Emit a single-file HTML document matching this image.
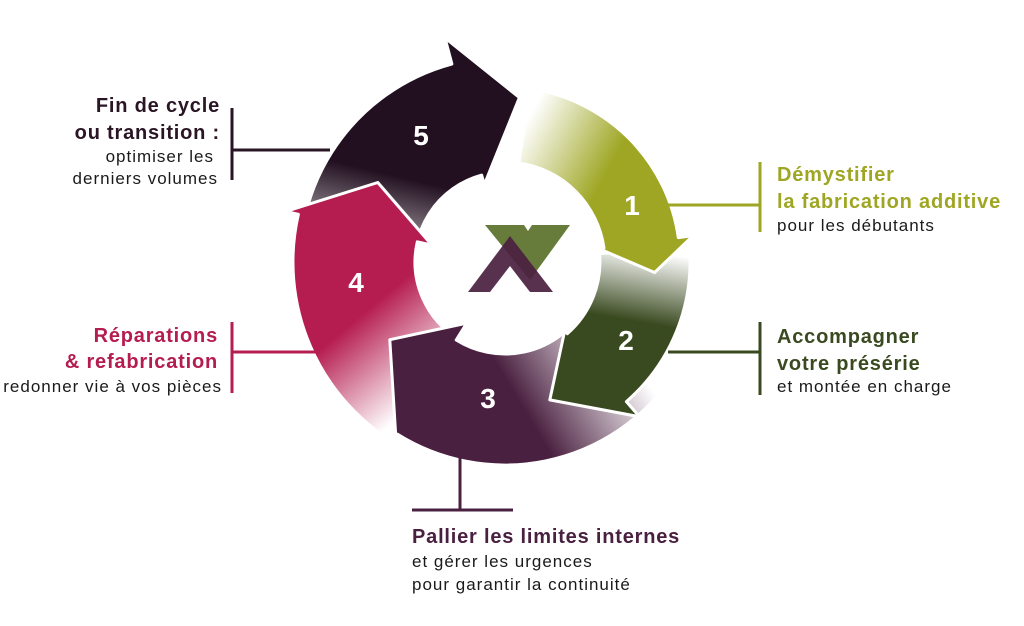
<!DOCTYPE html>
<html><head><meta charset="utf-8"><style>
html,body{margin:0;padding:0;background:#fff;}
svg{display:block;font-family:"Liberation Sans",sans-serif;}
.b{font-weight:bold;font-size:20px;letter-spacing:0.8px;}
.r{font-size:17px;letter-spacing:1px;fill:#1a1a1a;}
</style></head><body>
<svg id="s" width="1024" height="626" viewBox="0 0 1024 626" xmlns="http://www.w3.org/2000/svg">
<defs id="d"></defs>
<g id="arrows"></g>
<polygon points="485,225 524,225 528,231 532,225 570,225 530,280" fill="#5f7530" opacity="0.95"/>
<polygon points="468,292 510,236 553,292 530,292 510,266 490,292" fill="#4a2040" opacity="0.92"/>
<g fill="#fff" font-weight="bold" font-size="28" text-anchor="middle">
<text x="421" y="145">5</text>
<text x="632" y="215">1</text>
<text x="626" y="350">2</text>
<text x="488" y="408">3</text>
<text x="356" y="292">4</text>
</g>
<g stroke-width="3" fill="none">
<path d="M232 108V180M232 150H330" stroke="#2a1525"/>
<path d="M232 322V393M232 352H320" stroke="#b51c4f"/>
<path d="M460 455V510M412 510H513" stroke="#4a2040"/>
<path d="M760 162V232M660 205H760" stroke="#9ea623"/>
<path d="M760 322V395M668 352H760" stroke="#3a4a20"/>
</g>
<g text-anchor="end">
<text x="220" y="112" class="b" fill="#2a1525">Fin de cycle</text>
<text x="220" y="139" class="b" fill="#2a1525">ou transition :</text>
<text x="214" y="162" class="r">optimiser les</text>
<text x="218" y="184" class="r">derniers volumes</text>
<text x="218" y="342" class="b" fill="#b51c4f">Réparations</text>
<text x="218" y="368" class="b" fill="#b51c4f">&amp; refabrication</text>
<text x="222" y="392" class="r">redonner vie à vos pièces</text>
</g>
<text x="777" y="181" class="b" fill="#9ea623">Démystifier</text>
<text x="777" y="208" class="b" fill="#9ea623">la fabrication additive</text>
<text x="777" y="231" class="r">pour les débutants</text>
<text x="777" y="343" class="b" fill="#3a4a20">Accompagner</text>
<text x="777" y="370" class="b" fill="#3a4a20">votre présérie</text>
<text x="777" y="392" class="r">et montée en charge</text>
<text x="412" y="543" class="b" fill="#4a2040">Pallier les limites internes</text>
<text x="412" y="567" class="r">et gérer les urgences</text>
<text x="412" y="590" class="r">pour garantir la continuité</text>
</svg>
<script>
(function(){
var cx=505,cy=262,NS="http://www.w3.org/2000/svg";
function P(a,r){var t=a*Math.PI/180;return [cx+r*Math.sin(t),cy-r*Math.cos(t)];}
function f(p){return p[0].toFixed(1)+" "+p[1].toFixed(1);}
var A=[
 {id:"g5",a0:-100,a1:-15,ri:90,ro:205,hi:80,ho:232,ta:5,tr:165,c:"#221020"},
 {id:"g4",a0:-150,a1:-77,ri:90,ro:212,hi:75,ho:225,ta:-58,tr:150,c:"#b51c4f"},
 {id:"g3",a0:125,a1:212,ri:92,ro:203,hi:72,ho:206,ta:236,tr:139,c:"#4a2040"},
 {id:"g2",a0:85,a1:139,ri:95,ro:185,hi:91,ho:205,ta:162,tr:145,c:"#3a4a20"},
 {id:"g1",a0:8,a1:82,ri:100,ro:175,hi:95,ho:190,ta:94,tr:150,c:"#9ea623"}
];
var d=document.getElementById("d"),g=document.getElementById("arrows");
A.forEach(function(o){
 var lg=document.createElementNS(NS,"linearGradient");
 lg.setAttribute("id",o.id);lg.setAttribute("gradientUnits","userSpaceOnUse");
 var rm=(o.ri+o.ro)/2,s=P(o.a0,rm),e=P(o.a0+(o.a1-o.a0)*0.55,rm);
 lg.setAttribute("x1",s[0]);lg.setAttribute("y1",s[1]);lg.setAttribute("x2",e[0]);lg.setAttribute("y2",e[1]);
 lg.innerHTML='<stop offset="0" stop-color="'+o.c+'" stop-opacity="0"/><stop offset="1" stop-color="'+o.c+'"/>';
 d.appendChild(lg);
 var big=(o.a1-o.a0)>180?1:0;
 var p="M"+f(P(o.a0,o.ro))+" A"+o.ro+" "+o.ro+" 0 "+big+" 1 "+f(P(o.a1,o.ro))+
  " L"+f(P(o.a1,o.ho))+" L"+f(P(o.ta,o.tr))+" L"+f(P(o.a1,o.hi))+" L"+f(P(o.a1,o.ri))+
  " A"+o.ri+" "+o.ri+" 0 "+big+" 0 "+f(P(o.a0,o.ri))+" Z";
 var pa=document.createElementNS(NS,"path");
 pa.setAttribute("d",p);pa.setAttribute("fill","url(#"+o.id+")");
 pa.setAttribute("stroke","#fff");pa.setAttribute("stroke-width","3");pa.setAttribute("stroke-linejoin","round");
 g.appendChild(pa);
});
})();
</script>
</body></html>
